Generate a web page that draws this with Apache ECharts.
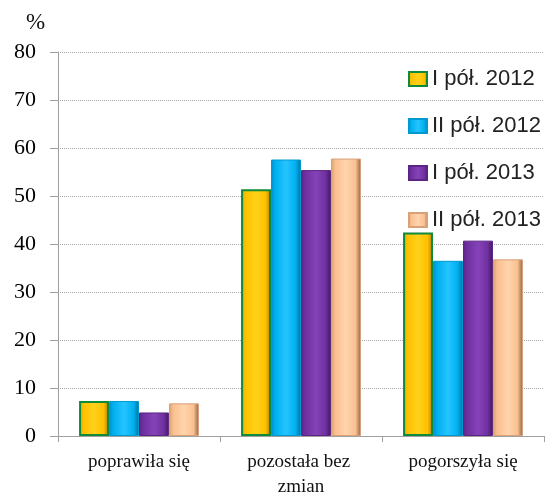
<!DOCTYPE html>
<html>
	<head>
		<meta charset="utf-8" />
		<title>wykres</title>
		<script src="https://cdn.jsdelivr.net/npm/echarts@6/dist/echarts.min.js"></script>
		<style>
			html, body { margin: 0; padding: 0; background: #fff; }
			#chart { width: 554px; height: 496px; }
		</style>
	</head>
	<body>
		<div id="chart"></div>
		<script>
			// dane
			var categories = ['poprawiła się', 'pozostała bez zmian', 'pogorszyła się'];
			var seriesNames = ['I pół. 2012', 'II pół. 2012', 'I pół. 2013', 'II pół. 2013'];
			var h1_2012 = [7.3, 51.4, 42.4];
			var h2_2012 = [7.3, 57.6, 36.5];
			var h1_2013 = [4.9, 55.4, 40.7];
			var h2_2013 = [6.8, 57.8, 36.8];
			var yTicks = [0, 10, 20, 30, 40, 50, 60, 70, 80];

			var allValues = [h1_2012, h2_2012, h1_2013, h2_2013];
			var colors = [
				['#d9a200', '#ffc000', '#ffd21a', '#ffc000', '#a67c00'],
				['#0090c8', '#00b0f0', '#25c4ff', '#00b0f0', '#006f96'],
				['#5a2585', '#7030a0', '#8443b8', '#7030a0', '#3f1a5c'],
				['#d8a070', '#fac090', '#ffd4ad', '#fac090', '#8a6446']
			];
			var borders = ['#0e8a3c', '#0099d0', '#5c2585', '#d9a07a'];

			function grad(c){
				return new echarts.graphic.LinearGradient(0, 0, 1, 0, [
					{offset: 0, color: c[0]},
					{offset: 0.15, color: c[1]},
					{offset: 0.5, color: c[2]},
					{offset: 0.82, color: c[3]},
					{offset: 1, color: c[4]}
				]);
			}

			var series = [];
			for (var i = 0; i < seriesNames.length; i++) {
				series.push({
					name: seriesNames[i],
					type: 'bar',
					data: allValues[i],
					barGap: '0%',
					barCategoryGap: '26%',
					itemStyle: {
						color: grad(colors[i]),
						borderColor: borders[i],
						borderWidth: i === 0 ? 2 : 1
					}
				});
			}

			var myChart = echarts.init(document.getElementById('chart'));
			myChart.setOption({
				animation: false,
				title: {
					text: '%',
					left: 21,
					top: 6,
					textStyle: {fontFamily: 'Liberation Serif', fontSize: 23, fontWeight: 'normal', color: '#111'}
				},
				legend: {
					orient: 'vertical',
					left: 403,
					top: 63,
					itemWidth: 18,
					itemHeight: 14,
					itemGap: 25,
					icon: 'rect',
					textStyle: {fontFamily: 'Liberation Sans', fontSize: 22, color: '#222'},
					data: seriesNames
				},
				grid: {left: 58, right: 10, top: 52, bottom: 60, containLabel: false, outerBoundsMode: 'none'},
				xAxis: {
					type: 'category',
					data: categories,
					axisLine: {lineStyle: {color: '#a0a0a0', width: 1}},
					axisTick: {show: true, length: 6, lineStyle: {color: '#a0a0a0'}},
					axisLabel: {
						interval: 0,
						fontFamily: 'Liberation Serif',
						fontSize: 19,
						color: '#111',
						margin: 14,
						width: 135,
						overflow: 'break',
						lineHeight: 25
					}
				},
				yAxis: {
					type: 'value',
					min: yTicks[0],
					max: yTicks[yTicks.length - 1],
					interval: 10,
					axisLine: {show: true, lineStyle: {color: '#a0a0a0', width: 1}},
					axisTick: {show: true, length: 8, lineStyle: {color: '#a0a0a0'}},
					axisLabel: {
						fontFamily: 'Liberation Serif',
						fontSize: 22,
						color: '#000',
						margin: 22
					},
					splitLine: {lineStyle: {color: '#a8a8a8', type: 'dotted', width: 1}}
				},
				series: series
			});
		</script>
	</body>
</html>
